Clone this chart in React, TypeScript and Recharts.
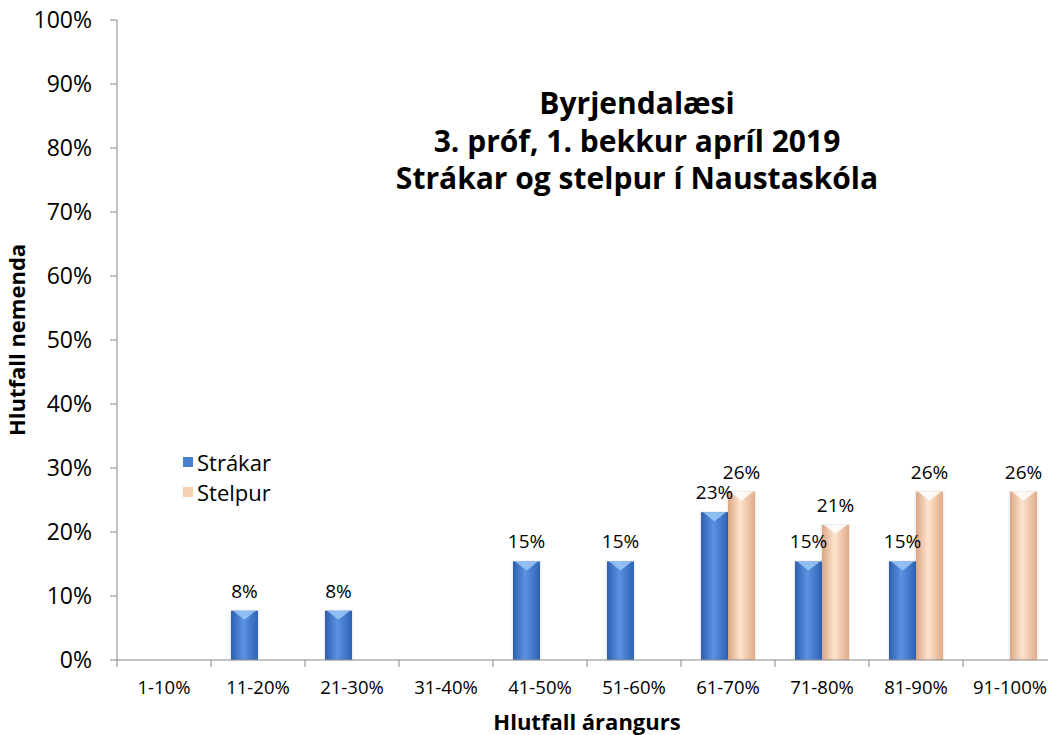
import React from 'react';
import { BarChart, Bar, XAxis, YAxis, LabelList, Legend } from 'recharts';

const categories = ['1-10%', '11-20%', '21-30%', '31-40%', '41-50%', '51-60%', '61-70%', '71-80%', '81-90%', '91-100%'];
const strakar = [0, 7.7, 7.7, 0, 15.4, 15.4, 23.1, 15.4, 15.4, 0];
const stelpur = [0, 0, 0, 0, 0, 0, 26.3, 21.1, 26.3, 26.3];
const yTicks = [0, 10, 20, 30, 40, 50, 60, 70, 80, 90, 100];
const seriesNames = ['Strákar', 'Stelpur'];
const titleLines = ['Byrjendalæsi', '3. próf, 1. bekkur apríl 2019', 'Strákar og stelpur í Naustaskóla'];

const data = categories.map((c, i) => ({ cat: c, strakar: strakar[i], stelpur: stelpur[i] }));

const W = 1060;
const H = 735;
const M = { top: 20, right: 3, left: 0, bottom: 0 };
const YW = 117;
const XH = 75;
const plotLeft = M.left + YW;
const plotRight = W - M.right;
const halfBand = (plotRight - plotLeft) / categories.length / 2;
const AXIS = '#888888';
const FONT = '"Open Sans", "Noto Sans", sans-serif';

const XTick = (props: any) => {
  const { x, y, payload, index } = props;
  return (
    <g>
      <line x1={x - halfBand} y1={y} x2={x - halfBand} y2={y + 7} stroke={AXIS} />
      {index === categories.length - 1 && (
        <line x1={x + halfBand} y1={y} x2={x + halfBand} y2={y + 7} stroke={AXIS} />
      )}
      <text x={x} y={y + 21} dy="0.71em" textAnchor="middle" fontSize={18.5} fill="#000" fontFamily={FONT}>
        {payload.value}
      </text>
    </g>
  );
};

const Cyl = (props: any) => {
  const { x, y, width, height, fill, top } = props;
  if (!height || height <= 0) return null;
  const th = Math.min(9, height);
  return (
    <g>
      <rect x={x - 1.5} y={y - 1} width={width + 3} height={height + 1} fill="#000" opacity={0.06} />
      <rect x={x} y={y} width={width} height={height} fill={fill} />
      <polygon points={`${x + 2},${y} ${x + width - 2},${y} ${x + width / 2},${y + th}`} fill={top} opacity={0.85} />
    </g>
  );
};

const fmt = (v: any) => (v ? `${Math.round(Number(v))}%` : '');

const legendColors = ['#4a80d2', '#f6cfb0'];

const LegendContent = () => (
  <div style={{ fontFamily: FONT, fontSize: 22, color: '#000', lineHeight: 1 }}>
    {seriesNames.map((n, i) => (
      <div key={n} style={{ display: 'flex', alignItems: 'center', height: 30 }}>
        <span style={{ display: 'inline-block', width: 10, height: 10, background: legendColors[i], marginRight: 4 }} />
        <span>{n}</span>
      </div>
    ))}
  </div>
);

export default function App() {
  return (
    <div style={{ position: 'fixed', left: 0, top: 0, width: 1048, height: 735, overflow: 'hidden', background: '#fff', fontFamily: FONT }}>
      <BarChart width={W} height={H} data={data} margin={M} barCategoryGap={20} barGap={0}>
        <defs>
          <linearGradient id="gBlue" x1="0" y1="0" x2="1" y2="0">
            <stop offset="0" stopColor="#2c5fae" />
            <stop offset="0.45" stopColor="#5b92e2" />
            <stop offset="1" stopColor="#2e63b4" />
          </linearGradient>
          <linearGradient id="gPeach" x1="0" y1="0" x2="1" y2="0">
            <stop offset="0" stopColor="#dca683" />
            <stop offset="0.45" stopColor="#fde4cf" />
            <stop offset="1" stopColor="#e0ab88" />
          </linearGradient>
        </defs>
        <XAxis
          dataKey="cat"
          height={XH}
          stroke={AXIS}
          tickLine={false}
          tickSize={0}
          tickMargin={0}
          tick={<XTick />}
          interval={0}
          label={{ value: 'Hlutfall árangurs', position: 'insideBottom', offset: 5, fontSize: 22, fontWeight: 700, fill: '#000', fontFamily: FONT }}
        />
        <YAxis
          width={YW}
          domain={[0, 100]}
          ticks={yTicks}
          interval={0}
          tickFormatter={(v: number) => `${v}%`}
          stroke={AXIS}
          tickSize={7}
          tickMargin={18}
          tick={{ fontSize: 23, fill: '#000', fontFamily: FONT }}
          label={{ value: 'Hlutfall nemenda', angle: -90, position: 'insideLeft', offset: 17, fontSize: 22, fontWeight: 700, fill: '#000', fontFamily: FONT, style: { textAnchor: 'middle' } }}
        />
        <Legend
          layout="vertical"
          verticalAlign="middle"
          align="center"
          wrapperStyle={{ left: 183, top: 447, width: 160, height: 60 }}
          content={<LegendContent />}
        />
        <Bar dataKey="strakar" name={seriesNames[0]} fill="url(#gBlue)" isAnimationActive={false}
          shape={(p: any) => <Cyl {...p} fill="url(#gBlue)" top="#9cc8f7" />}>
          <LabelList dataKey="strakar" position="top" offset={13} formatter={fmt} fontSize={19} fill="#000" fontFamily={FONT} />
        </Bar>
        <Bar dataKey="stelpur" name={seriesNames[1]} fill="url(#gPeach)" isAnimationActive={false}
          shape={(p: any) => <Cyl {...p} fill="url(#gPeach)" top="#ffffff" />}>
          <LabelList dataKey="stelpur" position="top" offset={13} formatter={fmt} fontSize={19} fill="#000" fontFamily={FONT} />
        </Bar>
        {titleLines.map((t, i) => (
          <text key={t} x={637} y={114 + i * 37.5} textAnchor="middle" fontSize={30} fontWeight={700} fill="#000" fontFamily={FONT}>
            {t}
          </text>
        ))}
      </BarChart>
    </div>
  );
}
